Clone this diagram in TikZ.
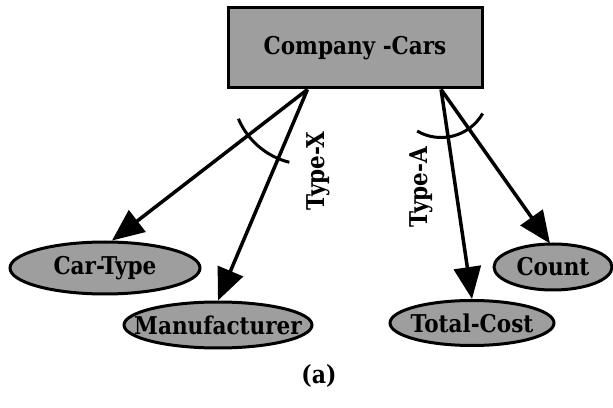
\documentclass[tikz,border=0pt]{standalone}
\usepackage{fontspec}
\setmainfont{DejaVu Serif}[FakeStretch=0.88]
\usetikzlibrary{shapes.geometric,arrows.meta,calc}
\definecolor{boxgray}{gray}{0.62}
\begin{document}
\begin{tikzpicture}[x=1pt,y=1pt,
  entity/.style={draw=black,line width=3pt,fill=boxgray,rectangle,
    minimum width=254pt,minimum height=80pt,inner sep=0pt,
    font=\fontsize{24.5}{27}\selectfont\bfseries},
  attr/.style={draw=black,line width=3pt,fill=boxgray,ellipse,inner sep=0pt},
  attrtext/.style={inner sep=0pt,font=\fontsize{24.5}{27}\selectfont\bfseries},
  link/.style={line width=3.5pt,-{Triangle[length=32pt,width=27pt]}},
  group/.style={line width=3pt},
  tag/.style={rotate=90,font=\fontsize{24.5}{27}\selectfont\bfseries}]
  \useasboundingbox (0,0) rectangle (613,407);

  % entity box
  \node[entity] (cars) at (355,359) {Company -Cars};

  % attribute ellipses, each with its label on top
  \node[attr,minimum width=190pt,minimum height=52pt] (cartype) at (105,139) {};
  \node[attrtext] (cartypetext) at (cartype) {Car-Type};
  \node[attr,minimum width=188pt,minimum height=46pt] (manuf) at (218,82) {};
  \node[attrtext] (manuftext) at (manuf) {Manufacturer};
  \node[attr,minimum width=164pt,minimum height=45pt] (total) at (472,84) {};
  \node[attrtext] (totaltext) at (total) {Total-Cost};
  \node[attr,minimum width=118pt,minimum height=46pt] (count) at (553,140) {};
  \node[attrtext] (counttext) at (count) {Count};

  % branching points on the lower edge of the entity box
  \coordinate (xsrc) at ($(cars.south west)!0.315!(cars.south east)$);
  \coordinate (asrc) at ($(cars.south west)!0.835!(cars.south east)$);

  % links end at the top of each ellipse
  \draw[link] (xsrc) -- ($(cartype.north)+(7,0)$);
  \draw[link] (xsrc) -- (manuf.north);
  \draw[link] (asrc) -- (total.north);
  \draw[link] (asrc) -- ($(count.north)+(-3,-1)$);

  % arcs grouping each pair of links
  \draw[group] (xsrc) ++(203:75) arc[start angle=203,end angle=256,radius=75];
  \draw[group] (asrc) ++(240:48) arc[start angle=240,end angle=330,radius=48];

  \node[tag] (typex) at (318,236) {Type-X};
  \node[tag] (typea) at (421,220) {Type-A};

  \node[font=\fontsize{25}{28}\selectfont\bfseries] (caption) at (319,31) {(a)};
\end{tikzpicture}
\end{document}
